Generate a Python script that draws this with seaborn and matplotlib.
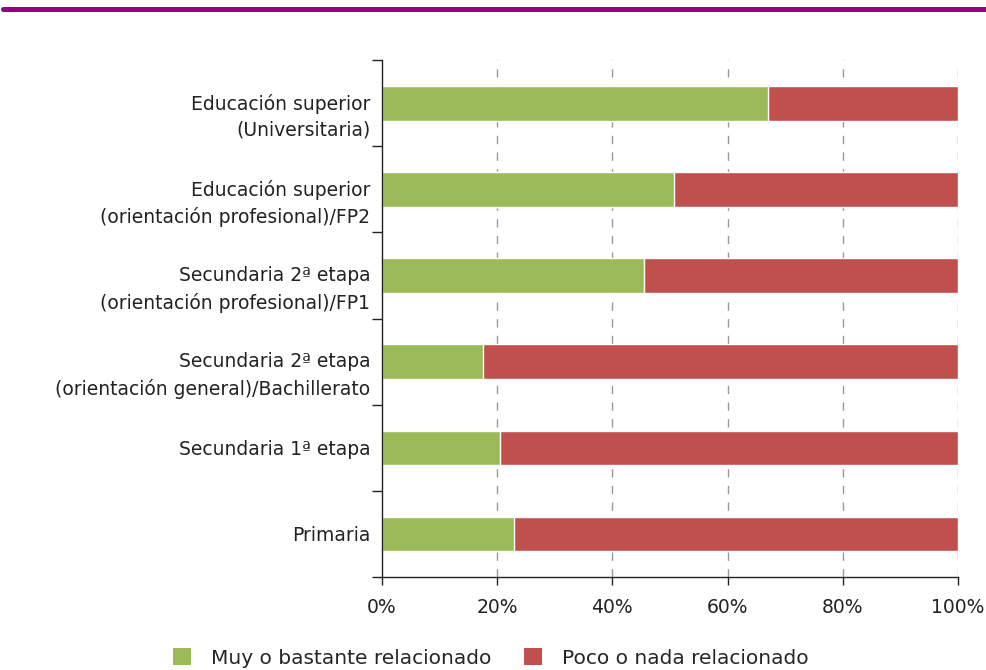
import numpy as np
import pandas as pd
import seaborn as sns
import matplotlib
matplotlib.use('Agg')
import matplotlib.pyplot as plt
import matplotlib.transforms as mtransforms
from matplotlib.lines import Line2D
from matplotlib.patches import Patch

categorias = ['Educación superior\n(Universitaria)',
              'Educación superior\n(orientación profesional)/FP2',
              'Secundaria 2ª etapa\n(orientación profesional)/FP1',
              'Secundaria 2ª etapa\n(orientación general)/Bachillerato',
              'Secundaria 1ª etapa',
              'Primaria']
muy_relacionado = [67.0, 50.7, 45.5, 17.5, 20.5, 22.9]
poco_relacionado = [100 - v for v in muy_relacionado]
series = ['Muy o bastante relacionado', 'Poco o nada relacionado']

verde = '#9BBB59'
rojo = '#C0504D'

df = pd.DataFrame({'cat': categorias, 'muy': muy_relacionado, 'poco': poco_relacionado})
df['total'] = df['muy'] + df['poco']

sns.set_style('white')
plt.rcParams['font.family'] = ['DejaVu Sans']

fig = plt.figure(figsize=(9.87, 6.7), dpi=100)
ax = fig.add_axes([0.387, 0.139, 0.9706 - 0.387, 0.910 - 0.139])

sns.barplot(data=df, y='cat', x='total', color=rojo, orient='h', width=0.4, ax=ax, saturation=1)
sns.barplot(data=df, y='cat', x='muy', color=verde, orient='h', width=0.4, ax=ax, saturation=1)

fs = 13.5
ax.set_xlim(0, 100)
ax.set_ylim(5.5, -0.5)
ax.set_xlabel('')
ax.set_ylabel('')
ax.set_xticks([0, 20, 40, 60, 80, 100])
ax.set_xticklabels(['0%', '20%', '40%', '60%', '80%', '100%'], fontsize=fs, color='#222222')
ax.set_yticks(range(len(categorias)))
ax.set_yticklabels(categorias, fontsize=fs, color='#222222', multialignment='right', linespacing=1.45)
ax.set_yticks(np.arange(-0.5, len(categorias), 1), minor=True)
ax.tick_params(axis='y', which='major', left=True, length=0, pad=8.5)
ax.tick_params(axis='y', which='minor', left=True, length=7, width=1, color='#222222', direction='out')
ax.tick_params(axis='x', which='major', bottom=True, length=6, width=1, color='#222222', direction='out', pad=9)

# two-line labels: first line sits near the bar centre
shift = mtransforms.ScaledTranslation(0, -6 / 72, fig.dpi_scale_trans)
for lab in ax.get_yticklabels():
    if '\n' in lab.get_text():
        lab.set_transform(lab.get_transform() + shift)

for x in [20, 40, 60, 80, 100]:
    ax.axvline(x, color='#999999', linestyle=(0, (6, 6)), linewidth=1, zorder=0)

sns.despine(ax=ax, top=True, right=True)
ax.spines['left'].set_color('#222222')
ax.spines['bottom'].set_color('#222222')
ax.spines['left'].set_linewidth(1)
ax.spines['bottom'].set_linewidth(1)

handles = [Patch(facecolor=verde, edgecolor='none'), Patch(facecolor=rojo, edgecolor='none')]
fig.legend(handles, series, loc='center', bbox_to_anchor=(0.497, 0.018), ncol=2, frameon=False,
           fontsize=14.5, handlelength=0.9, handleheight=0.9, columnspacing=1.6, handletextpad=1.0)

fig.add_artist(Line2D([0.003, 1.0], [1 - 8.5 / 670, 1 - 8.5 / 670], color='#990080', linewidth=3.6))

fig.savefig('out.png', dpi=100)
